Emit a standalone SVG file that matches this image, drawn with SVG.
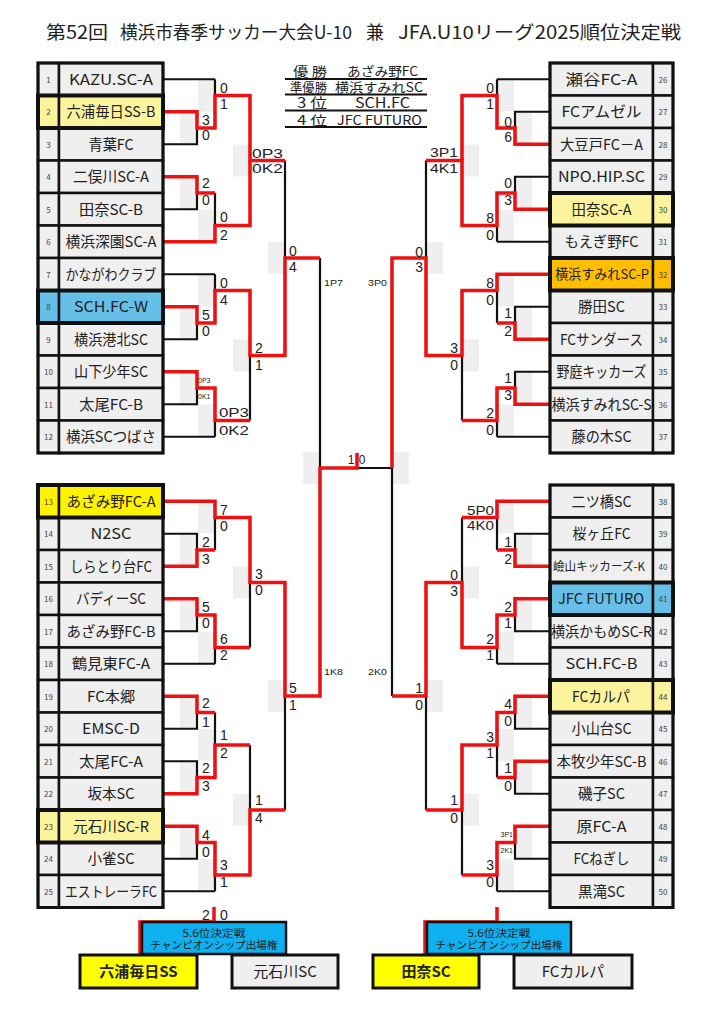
<svg xmlns="http://www.w3.org/2000/svg" width="724" height="1024" viewBox="0 0 724 1024">
<style>
text{font-family:"Noto Sans CJK JP","Noto Sans",sans-serif;fill:#222}
#scores text{font-family:"Liberation Sans","Noto Sans",sans-serif}
.c{fill:#efefef;stroke:#111;stroke-width:2.5}
.hl{fill:none;stroke:#111;stroke-width:4}
.ob{fill:none;stroke:#111;stroke-width:3}
.num{font-size:8px;text-anchor:middle;fill:#444}
.nm{font-size:15px;text-anchor:middle}
.blk{fill:none;stroke:#111;stroke-width:2.2}
.red{fill:none;stroke:#ee1111;stroke-width:3.5;stroke-linejoin:miter}
.s{font-size:14px}
.sl{font-size:14px;text-anchor:end}
.m{font-size:13.5px}
.ml{font-size:13.5px;text-anchor:end}
.t{font-size:7px}
.tl{font-size:7px;text-anchor:end}
.f{font-size:9.5px}
.fl{font-size:9.5px;text-anchor:end}
.sh{fill:#efefef}
.py{fill:#fbf49c}
.by{fill:#fff200}
.bl{fill:#66bfe6}
.or{fill:#ffbe00}
.res{font-size:13px;text-anchor:middle}
</style>

<g id="title">
<text x="46" y="39" textLength="62" lengthAdjust="spacingAndGlyphs" style="font-size:18px">第52回</text>
<text x="120" y="39" textLength="232" lengthAdjust="spacingAndGlyphs" style="font-size:18px">横浜市春季サッカー大会U-10</text>
<text x="366" y="39" textLength="18" lengthAdjust="spacingAndGlyphs" style="font-size:18px">兼</text>
<text x="398" y="39" textLength="283" lengthAdjust="spacingAndGlyphs" style="font-size:18px">JFA.U10リーグ2025順位決定戦</text>
</g>

<g id="results">
<path d="M285,79H427M285,94.5H427M285,110.5H427M285,127H427" stroke="#111" stroke-width="2" fill="none"/>
<text class="res" x="310" y="76" textLength="34" lengthAdjust="spacingAndGlyphs">優 勝</text>
<text class="res" x="382.5" y="76" textLength="71" lengthAdjust="spacingAndGlyphs">あざみ野FC</text>
<text class="res" x="308.5" y="92" textLength="37" lengthAdjust="spacingAndGlyphs">準優勝</text>
<text class="res" x="379" y="92" textLength="88" lengthAdjust="spacingAndGlyphs">横浜すみれSC</text>
<text class="res" x="312" y="108" textLength="30" lengthAdjust="spacingAndGlyphs" style="font-size:14px">3 位</text>
<text class="res" x="382.5" y="108" textLength="55" lengthAdjust="spacingAndGlyphs" style="font-size:14px">SCH.FC</text>
<text class="res" x="312" y="124.5" textLength="30" lengthAdjust="spacingAndGlyphs">4 位</text>
<text class="res" x="379.5" y="124.5" textLength="85" lengthAdjust="spacingAndGlyphs">JFC FUTURO</text>
</g>

<g id="shading">
<rect class="sh" x="180" y="112" width="17" height="32"/><rect class="sh" x="180" y="177" width="17" height="32"/><rect class="sh" x="180" y="307" width="17" height="32"/><rect class="sh" x="180" y="372" width="17" height="32"/><rect class="sh" x="180" y="534" width="17" height="32"/><rect class="sh" x="180" y="599" width="17" height="32"/><rect class="sh" x="180" y="696.5" width="17" height="32"/><rect class="sh" x="180" y="761.5" width="17" height="32"/><rect class="sh" x="180" y="826.5" width="17" height="32"/>
<rect class="sh" x="198" y="79.5" width="17" height="32"/><rect class="sh" x="198" y="209.5" width="17" height="32"/><rect class="sh" x="198" y="274.5" width="17" height="32"/><rect class="sh" x="198" y="404.5" width="17" height="32"/><rect class="sh" x="198" y="501.5" width="17" height="32"/><rect class="sh" x="198" y="631.5" width="17" height="32"/><rect class="sh" x="198" y="729" width="17" height="32"/><rect class="sh" x="198" y="859" width="17" height="32"/>
<rect class="sh" x="233" y="144.5" width="17" height="32"/><rect class="sh" x="233" y="339.5" width="17" height="32"/><rect class="sh" x="233" y="566.5" width="17" height="32"/><rect class="sh" x="233" y="794" width="17" height="32"/>
<rect class="sh" x="268" y="242" width="17" height="32"/><rect class="sh" x="268" y="680" width="17" height="32"/>
<rect class="sh" x="303" y="452" width="17" height="32"/>
<rect class="sh" x="515" y="112" width="17" height="32"/><rect class="sh" x="515" y="177" width="17" height="32"/><rect class="sh" x="515" y="307" width="17" height="32"/><rect class="sh" x="515" y="372" width="17" height="32"/><rect class="sh" x="515" y="534" width="17" height="32"/><rect class="sh" x="515" y="599" width="17" height="32"/><rect class="sh" x="515" y="696.5" width="17" height="32"/><rect class="sh" x="515" y="761.5" width="17" height="32"/><rect class="sh" x="515" y="826.5" width="17" height="32"/>
<rect class="sh" x="497" y="79.5" width="17" height="32"/><rect class="sh" x="497" y="209.5" width="17" height="32"/><rect class="sh" x="497" y="274.5" width="17" height="32"/><rect class="sh" x="497" y="404.5" width="17" height="32"/><rect class="sh" x="497" y="501.5" width="17" height="32"/><rect class="sh" x="497" y="631.5" width="17" height="32"/><rect class="sh" x="497" y="729" width="17" height="32"/><rect class="sh" x="497" y="859" width="17" height="32"/>
<rect class="sh" x="462" y="144.5" width="17" height="32"/><rect class="sh" x="462" y="339.5" width="17" height="32"/><rect class="sh" x="462" y="566.5" width="17" height="32"/><rect class="sh" x="462" y="794" width="17" height="32"/>
<rect class="sh" x="426" y="242" width="17" height="32"/><rect class="sh" x="426" y="680" width="17" height="32"/>
<rect class="sh" x="392" y="452" width="17" height="32"/>
</g>

<g id="connectors">
<path class="blk" d="M163,79.25H215M163,111.75H197V144.25H163M197,128H215M215,79.25V128M215,95.5H250M163,176.75H197V209.25H163M197,193H215M163,241.75H215M215,193V241.75M215,225.5H250M250,95.5V225.5M250,160.5H285M163,274.25H215M163,306.75H197V339.25H163M197,323H215M215,274.25V323M215,290.5H250M163,371.75H197V404.25H163M197,388H215M163,436.75H215M215,388V436.75M215,420.5H250M250,290.5V420.5M250,355.5H285M285,160.5V355.5M285,258H320M320,258V696M320,468H392"/>
<path class="blk" d="M163,501.25H215M163,533.75H197V566.25H163M197,550H215M215,501.25V550M215,517.5H250M163,598.75H197V631.25H163M197,615H215M163,663.75H215M215,615V663.75M215,647.5H250M250,517.5V647.5M250,582.5H285M163,696.25H197V728.75H163M197,712.5H215M163,761.25H197V793.75H163M197,777.5H215M215,712.5V777.5M215,745H250M163,826.25H197V858.75H163M197,842.5H215M163,891.25H215M215,842.5V891.25M215,875H250M250,745V875M250,810H285M285,582.5V810M285,696H320"/>
<path class="blk" d="M550,79.25H497M550,111.75H515V144.25H550M515,128H497M497,79.25V128M497,95.5H462M550,176.75H515V209.25H550M515,193H497M550,241.75H497M497,193V241.75M497,225.5H462M462,95.5V225.5M462,160.5H426M550,274.25H497M550,306.75H515V339.25H550M515,323H497M497,274.25V323M497,290.5H462M550,371.75H515V404.25H550M515,388H497M550,436.75H497M497,388V436.75M497,420.5H462M462,290.5V420.5M462,355.5H426M426,160.5V355.5M426,258H392M392,258V696"/>
<path class="blk" d="M550,501.25H497M550,533.75H515V566.25H550M515,550H497M497,501.25V550M497,517.5H462M550,598.75H515V631.25H550M515,615H497M550,663.75H497M497,615V663.75M497,647.5H462M462,517.5V647.5M462,582.5H426M550,696.25H515V728.75H550M515,712.5H497M550,761.25H515V793.75H550M515,777.5H497M497,712.5V777.5M497,745H462M550,826.25H515V858.75H550M515,842.5H497M550,891.25H497M497,842.5V891.25M497,875H462M462,745V875M462,810H426M426,582.5V810M426,696H392"/>
<path class="red" d="M163,111.75H197V128H215V95.5H250V160.5H285"/>
<path class="red" d="M163,176.75H197V193H215"/>
<path class="red" d="M163,241.75H215V225.5H250V160.5"/>
<path class="red" d="M163,306.75H197V323H215V290.5H250V355.5H285V258H320"/>
<path class="red" d="M163,371.75H197V388H215V420.5H250"/>
<path class="red" d="M163,501.25H215V517.5H250V582.5H285V696H320V468H357V453"/>
<path class="red" d="M163,566.25H197V550H215"/>
<path class="red" d="M163,598.75H197V615H215V647.5H250"/>
<path class="red" d="M163,696.25H197V712.5H215"/>
<path class="red" d="M163,793.75H197V777.5H215V745H250"/>
<path class="red" d="M163,826.25H197V842.5H215V875H250V810H285"/>
<path class="red" d="M550,144.25H515V128H497V95.5H462V160.5"/>
<path class="red" d="M550,209.25H515V193H497V225.5H462V160.5H426"/>
<path class="red" d="M550,274.25H497V290.5H462V355.5H426V258H392V468"/>
<path class="red" d="M550,339.25H515V323H497"/>
<path class="red" d="M550,404.25H515V388H497V420.5H462"/>
<path class="red" d="M550,501.25H497V517.5H462"/>
<path class="red" d="M550,566.25H515V550H497"/>
<path class="red" d="M550,598.75H515V615H497V647.5H462V582.5H426V696H392"/>
<path class="red" d="M550,696.25H515V712.5H497V745H462V810H426"/>
<path class="red" d="M550,761.25H515V777.5H497"/>
<path class="red" d="M550,826.25H515V842.5H497V875H462"/>
<path class="red" d="M214,907V922H140V955"/>
<path class="red" d="M497,907V922H425V955"/>
</g>

<g id="scores">
<text class="s" x="202" y="125">3</text><text class="s" x="202" y="140">0</text>
<text class="s" x="220" y="93">0</text><text class="s" x="220" y="109">1</text>
<text class="m" x="252" y="158" textLength="31" lengthAdjust="spacingAndGlyphs">0P3</text><text class="m" x="252" y="173" textLength="31" lengthAdjust="spacingAndGlyphs">0K2</text>
<text class="s" x="202" y="188">2</text><text class="s" x="202" y="205">0</text>
<text class="s" x="220" y="222">0</text><text class="s" x="220" y="240">2</text>
<text class="s" x="289" y="256">0</text><text class="s" x="289" y="272">4</text>
<text class="s" x="202" y="320">5</text><text class="s" x="202" y="336">0</text>
<text class="s" x="220" y="288">0</text><text class="s" x="220" y="305">4</text>
<text class="s" x="255" y="353">2</text><text class="s" x="255" y="370">1</text>
<text class="t" x="198" y="382.5">0P3</text><text class="t" x="198" y="398.5">0K1</text>
<text class="m" x="219" y="416.5" textLength="30" lengthAdjust="spacingAndGlyphs">0P3</text><text class="m" x="219" y="434.5" textLength="30" lengthAdjust="spacingAndGlyphs">0K2</text>
<text class="f" x="324" y="286" textLength="19" lengthAdjust="spacingAndGlyphs">1P7</text><text class="f" x="324" y="675" textLength="19" lengthAdjust="spacingAndGlyphs">1K8</text>
<text x="351" y="464" style="font-size:12px;text-anchor:middle">1</text><text x="362" y="464" style="font-size:12px;text-anchor:middle">0</text>
<text class="s" x="202" y="547">2</text><text class="s" x="202" y="564">3</text>
<text class="s" x="202" y="612">5</text><text class="s" x="202" y="628">0</text>
<text class="s" x="202" y="708">2</text><text class="s" x="202" y="727">1</text>
<text class="s" x="202" y="773">2</text><text class="s" x="202" y="791">3</text>
<text class="s" x="202" y="840">4</text><text class="s" x="202" y="857">0</text>
<text class="s" x="220" y="515">7</text><text class="s" x="220" y="531">0</text>
<text class="s" x="220" y="644">6</text><text class="s" x="220" y="660">2</text>
<text class="s" x="220" y="740">1</text><text class="s" x="220" y="758">2</text>
<text class="s" x="220" y="870">3</text><text class="s" x="220" y="887">1</text>
<text class="s" x="255" y="579">3</text><text class="s" x="255" y="595">0</text>
<text class="s" x="255" y="805">1</text><text class="s" x="255" y="823">4</text>
<text class="s" x="289" y="693">5</text><text class="s" x="289" y="710">1</text>
<text x="206" y="920" style="font-size:14px;text-anchor:middle">2</text><text x="224" y="920" style="font-size:14px;text-anchor:middle">0</text>
<text class="sl" x="512" y="127">0</text><text class="sl" x="512" y="142">6</text>
<text class="sl" x="512" y="188">0</text><text class="sl" x="512" y="205">3</text>
<text class="sl" x="512" y="318">1</text><text class="sl" x="512" y="336">2</text>
<text class="sl" x="512" y="383">1</text><text class="sl" x="512" y="400">3</text>
<text class="sl" x="494" y="93">0</text><text class="sl" x="494" y="109">1</text>
<text class="sl" x="494" y="223">8</text><text class="sl" x="494" y="240">0</text>
<text class="sl" x="494" y="288">8</text><text class="sl" x="494" y="305">0</text>
<text class="sl" x="494" y="418">2</text><text class="sl" x="494" y="435">0</text>
<text class="ml" x="458" y="156.5" textLength="28" lengthAdjust="spacingAndGlyphs">3P1</text><text class="ml" x="458" y="172.5" textLength="28" lengthAdjust="spacingAndGlyphs">4K1</text>
<text class="sl" x="458" y="353">3</text><text class="sl" x="458" y="370">0</text>
<text class="sl" x="423" y="257">0</text><text class="sl" x="423" y="272">3</text>
<text class="fl" x="387" y="286" textLength="19" lengthAdjust="spacingAndGlyphs">3P0</text><text class="fl" x="387" y="675" textLength="19" lengthAdjust="spacingAndGlyphs">2K0</text>
<text class="ml" x="494" y="515" textLength="27" lengthAdjust="spacingAndGlyphs">5P0</text><text class="ml" x="494" y="530" textLength="27" lengthAdjust="spacingAndGlyphs">4K0</text>
<text class="sl" x="494" y="644">2</text><text class="sl" x="494" y="660">1</text>
<text class="sl" x="494" y="742">3</text><text class="sl" x="494" y="758">1</text>
<text class="sl" x="494" y="870">3</text><text class="sl" x="494" y="887">0</text>
<text class="sl" x="512" y="547">1</text><text class="sl" x="512" y="564">2</text>
<text class="sl" x="512" y="612">2</text><text class="sl" x="512" y="628">1</text>
<text class="sl" x="512" y="709">4</text><text class="sl" x="512" y="726">0</text>
<text class="sl" x="512" y="773">1</text><text class="sl" x="512" y="791">0</text>
<text class="tl" x="513" y="836.5">3P1</text><text class="tl" x="513" y="852.5">2K1</text>
<text class="sl" x="458" y="580">0</text><text class="sl" x="458" y="596">3</text>
<text class="sl" x="458" y="805">1</text><text class="sl" x="458" y="823">0</text>
<text class="sl" x="423" y="693">1</text><text class="sl" x="423" y="710">0</text>
</g>

<g id="t1"><rect class="c" x="38" y="63" width="21" height="32.5"/><rect class="c" x="59" y="63" width="104" height="32.5"/><text class="num" x="48.5" y="82.5">1</text><text class="nm" x="111" y="84.75" textLength="84" lengthAdjust="spacingAndGlyphs">KAZU.SC-A</text></g>
<g id="t3"><rect class="c" x="38" y="128" width="21" height="32.5"/><rect class="c" x="59" y="128" width="104" height="32.5"/><text class="num" x="48.5" y="147.5">3</text><text class="nm" x="111" y="149.75" textLength="45" lengthAdjust="spacingAndGlyphs">青葉FC</text></g>
<g id="t4"><rect class="c" x="38" y="160.5" width="21" height="32.5"/><rect class="c" x="59" y="160.5" width="104" height="32.5"/><text class="num" x="48.5" y="180">4</text><text class="nm" x="111" y="182.25" textLength="76" lengthAdjust="spacingAndGlyphs">二俣川SC-A</text></g>
<g id="t5"><rect class="c" x="38" y="193" width="21" height="32.5"/><rect class="c" x="59" y="193" width="104" height="32.5"/><text class="num" x="48.5" y="212.5">5</text><text class="nm" x="111" y="214.75" textLength="64" lengthAdjust="spacingAndGlyphs">田奈SC-B</text></g>
<g id="t6"><rect class="c" x="38" y="225.5" width="21" height="32.5"/><rect class="c" x="59" y="225.5" width="104" height="32.5"/><text class="num" x="48.5" y="245">6</text><text class="nm" x="111" y="247.25" textLength="91" lengthAdjust="spacingAndGlyphs">横浜深園SC-A</text></g>
<g id="t7"><rect class="c" x="38" y="258" width="21" height="32.5"/><rect class="c" x="59" y="258" width="104" height="32.5"/><text class="num" x="48.5" y="277.5">7</text><text class="nm" x="111" y="279.75" textLength="91" lengthAdjust="spacingAndGlyphs">かながわクラブ</text></g>
<g id="t9"><rect class="c" x="38" y="323" width="21" height="32.5"/><rect class="c" x="59" y="323" width="104" height="32.5"/><text class="num" x="48.5" y="342.5">9</text><text class="nm" x="111" y="344.75" textLength="74" lengthAdjust="spacingAndGlyphs">横浜港北SC</text></g>
<g id="t10"><rect class="c" x="38" y="355.5" width="21" height="32.5"/><rect class="c" x="59" y="355.5" width="104" height="32.5"/><text class="num" x="48.5" y="375">10</text><text class="nm" x="111" y="377.25" textLength="74" lengthAdjust="spacingAndGlyphs">山下少年SC</text></g>
<g id="t11"><rect class="c" x="38" y="388" width="21" height="32.5"/><rect class="c" x="59" y="388" width="104" height="32.5"/><text class="num" x="48.5" y="407.5">11</text><text class="nm" x="111" y="409.75" textLength="64" lengthAdjust="spacingAndGlyphs">太尾FC-B</text></g>
<g id="t12"><rect class="c" x="38" y="420.5" width="21" height="32.5"/><rect class="c" x="59" y="420.5" width="104" height="32.5"/><text class="num" x="48.5" y="440">12</text><text class="nm" x="111" y="442.25" textLength="90" lengthAdjust="spacingAndGlyphs">横浜SCつばさ</text></g>
<g id="t14"><rect class="c" x="38" y="517.5" width="21" height="32.5"/><rect class="c" x="59" y="517.5" width="104" height="32.5"/><text class="num" x="48.5" y="537">14</text><text class="nm" x="111" y="539.25" textLength="41" lengthAdjust="spacingAndGlyphs">N2SC</text></g>
<g id="t15"><rect class="c" x="38" y="550" width="21" height="32.5"/><rect class="c" x="59" y="550" width="104" height="32.5"/><text class="num" x="48.5" y="569.5">15</text><text class="nm" x="111" y="571.75" textLength="82" lengthAdjust="spacingAndGlyphs">しらとり台FC</text></g>
<g id="t16"><rect class="c" x="38" y="582.5" width="21" height="32.5"/><rect class="c" x="59" y="582.5" width="104" height="32.5"/><text class="num" x="48.5" y="602">16</text><text class="nm" x="111" y="604.25" textLength="70" lengthAdjust="spacingAndGlyphs">バディーSC</text></g>
<g id="t17"><rect class="c" x="38" y="615" width="21" height="32.5"/><rect class="c" x="59" y="615" width="104" height="32.5"/><text class="num" x="48.5" y="634.5">17</text><text class="nm" x="111" y="636.75" textLength="89" lengthAdjust="spacingAndGlyphs">あざみ野FC-B</text></g>
<g id="t18"><rect class="c" x="38" y="647.5" width="21" height="32.5"/><rect class="c" x="59" y="647.5" width="104" height="32.5"/><text class="num" x="48.5" y="667">18</text><text class="nm" x="111" y="669.25" textLength="78" lengthAdjust="spacingAndGlyphs">鶴見東FC-A</text></g>
<g id="t19"><rect class="c" x="38" y="680" width="21" height="32.5"/><rect class="c" x="59" y="680" width="104" height="32.5"/><text class="num" x="48.5" y="699.5">19</text><text class="nm" x="111" y="701.75" textLength="48" lengthAdjust="spacingAndGlyphs">FC本郷</text></g>
<g id="t20"><rect class="c" x="38" y="712.5" width="21" height="32.5"/><rect class="c" x="59" y="712.5" width="104" height="32.5"/><text class="num" x="48.5" y="732">20</text><text class="nm" x="111" y="734.25" textLength="58" lengthAdjust="spacingAndGlyphs">EMSC-D</text></g>
<g id="t21"><rect class="c" x="38" y="745" width="21" height="32.5"/><rect class="c" x="59" y="745" width="104" height="32.5"/><text class="num" x="48.5" y="764.5">21</text><text class="nm" x="111" y="766.75" textLength="64" lengthAdjust="spacingAndGlyphs">太尾FC-A</text></g>
<g id="t22"><rect class="c" x="38" y="777.5" width="21" height="32.5"/><rect class="c" x="59" y="777.5" width="104" height="32.5"/><text class="num" x="48.5" y="797">22</text><text class="nm" x="111" y="799.25" textLength="47" lengthAdjust="spacingAndGlyphs">坂本SC</text></g>
<g id="t24"><rect class="c" x="38" y="842.5" width="21" height="32.5"/><rect class="c" x="59" y="842.5" width="104" height="32.5"/><text class="num" x="48.5" y="862">24</text><text class="nm" x="111" y="864.25" textLength="47" lengthAdjust="spacingAndGlyphs">小雀SC</text></g>
<g id="t25"><rect class="c" x="38" y="875" width="21" height="32.5"/><rect class="c" x="59" y="875" width="104" height="32.5"/><text class="num" x="48.5" y="894.5">25</text><text class="nm" x="111" y="896.75" textLength="92" lengthAdjust="spacingAndGlyphs">エストレーラFC</text></g>

<g id="t26"><rect class="c" x="550" y="63" width="103" height="32.5"/><rect class="c" x="653" y="63" width="20" height="32.5"/><text class="num" x="663" y="82.5">26</text><text class="nm" x="601.5" y="84.75" textLength="72" lengthAdjust="spacingAndGlyphs">瀬谷FC-A</text></g>
<g id="t27"><rect class="c" x="550" y="95.5" width="103" height="32.5"/><rect class="c" x="653" y="95.5" width="20" height="32.5"/><text class="num" x="663" y="115">27</text><text class="nm" x="601.5" y="117.25" textLength="80" lengthAdjust="spacingAndGlyphs">FCアムゼル</text></g>
<g id="t28"><rect class="c" x="550" y="128" width="103" height="32.5"/><rect class="c" x="653" y="128" width="20" height="32.5"/><text class="num" x="663" y="147.5">28</text><text class="nm" x="601.5" y="149.75" textLength="83" lengthAdjust="spacingAndGlyphs">大豆戸FC－A</text></g>
<g id="t29"><rect class="c" x="550" y="160.5" width="103" height="32.5"/><rect class="c" x="653" y="160.5" width="20" height="32.5"/><text class="num" x="663" y="180">29</text><text class="nm" x="601.5" y="182.25" textLength="87" lengthAdjust="spacingAndGlyphs">NPO.HIP.SC</text></g>
<g id="t31"><rect class="c" x="550" y="225.5" width="103" height="32.5"/><rect class="c" x="653" y="225.5" width="20" height="32.5"/><text class="num" x="663" y="245">31</text><text class="nm" x="601.5" y="247.25" textLength="74" lengthAdjust="spacingAndGlyphs">もえぎ野FC</text></g>
<g id="t33"><rect class="c" x="550" y="290.5" width="103" height="32.5"/><rect class="c" x="653" y="290.5" width="20" height="32.5"/><text class="num" x="663" y="310">33</text><text class="nm" x="601.5" y="312.25" textLength="47" lengthAdjust="spacingAndGlyphs">勝田SC</text></g>
<g id="t34"><rect class="c" x="550" y="323" width="103" height="32.5"/><rect class="c" x="653" y="323" width="20" height="32.5"/><text class="num" x="663" y="342.5">34</text><text class="nm" x="601.5" y="344.75" textLength="83" lengthAdjust="spacingAndGlyphs">FCサンダース</text></g>
<g id="t35"><rect class="c" x="550" y="355.5" width="103" height="32.5"/><rect class="c" x="653" y="355.5" width="20" height="32.5"/><text class="num" x="663" y="375">35</text><text class="nm" x="601.5" y="377.25" textLength="90" lengthAdjust="spacingAndGlyphs">野庭キッカーズ</text></g>
<g id="t36"><rect class="c" x="550" y="388" width="103" height="32.5"/><rect class="c" x="653" y="388" width="20" height="32.5"/><text class="num" x="663" y="407.5">36</text><text class="nm" x="601.5" y="409.75" textLength="100" lengthAdjust="spacingAndGlyphs">横浜すみれSC-S</text></g>
<g id="t37"><rect class="c" x="550" y="420.5" width="103" height="32.5"/><rect class="c" x="653" y="420.5" width="20" height="32.5"/><text class="num" x="663" y="440">37</text><text class="nm" x="601.5" y="442.25" textLength="60" lengthAdjust="spacingAndGlyphs">藤の木SC</text></g>
<g id="t38"><rect class="c" x="550" y="485" width="103" height="32.5"/><rect class="c" x="653" y="485" width="20" height="32.5"/><text class="num" x="663" y="504.5">38</text><text class="nm" x="601.5" y="506.75" textLength="60" lengthAdjust="spacingAndGlyphs">二ツ橋SC</text></g>
<g id="t39"><rect class="c" x="550" y="517.5" width="103" height="32.5"/><rect class="c" x="653" y="517.5" width="20" height="32.5"/><text class="num" x="663" y="537">39</text><text class="nm" x="601.5" y="539.25" textLength="58" lengthAdjust="spacingAndGlyphs">桜ヶ丘FC</text></g>
<g id="t40"><rect class="c" x="550" y="550" width="103" height="32.5"/><rect class="c" x="653" y="550" width="20" height="32.5"/><text class="num" x="663" y="569.5">40</text><text class="nm" x="599" y="570.75" textLength="92" lengthAdjust="spacingAndGlyphs" style="font-size:12px">嶮山キッカーズ-K</text></g>
<g id="t42"><rect class="c" x="550" y="615" width="103" height="32.5"/><rect class="c" x="653" y="615" width="20" height="32.5"/><text class="num" x="663" y="634.5">42</text><text class="nm" x="601.5" y="636.75" textLength="101" lengthAdjust="spacingAndGlyphs">横浜かもめSC-R</text></g>
<g id="t43"><rect class="c" x="550" y="647.5" width="103" height="32.5"/><rect class="c" x="653" y="647.5" width="20" height="32.5"/><text class="num" x="663" y="667">43</text><text class="nm" x="601.5" y="669.25" textLength="72" lengthAdjust="spacingAndGlyphs">SCH.FC-B</text></g>
<g id="t45"><rect class="c" x="550" y="712.5" width="103" height="32.5"/><rect class="c" x="653" y="712.5" width="20" height="32.5"/><text class="num" x="663" y="732">45</text><text class="nm" x="601.5" y="734.25" textLength="60" lengthAdjust="spacingAndGlyphs">小山台SC</text></g>
<g id="t46"><rect class="c" x="550" y="745" width="103" height="32.5"/><rect class="c" x="653" y="745" width="20" height="32.5"/><text class="num" x="663" y="764.5">46</text><text class="nm" x="601.5" y="766.75" textLength="90" lengthAdjust="spacingAndGlyphs">本牧少年SC-B</text></g>
<g id="t47"><rect class="c" x="550" y="777.5" width="103" height="32.5"/><rect class="c" x="653" y="777.5" width="20" height="32.5"/><text class="num" x="663" y="797">47</text><text class="nm" x="601.5" y="799.25" textLength="47" lengthAdjust="spacingAndGlyphs">磯子SC</text></g>
<g id="t48"><rect class="c" x="550" y="810" width="103" height="32.5"/><rect class="c" x="653" y="810" width="20" height="32.5"/><text class="num" x="663" y="829.5">48</text><text class="nm" x="601.5" y="831.75" textLength="50" lengthAdjust="spacingAndGlyphs">原FC-A</text></g>
<g id="t49"><rect class="c" x="550" y="842.5" width="103" height="32.5"/><rect class="c" x="653" y="842.5" width="20" height="32.5"/><text class="num" x="663" y="862">49</text><text class="nm" x="601.5" y="864.25" textLength="56" lengthAdjust="spacingAndGlyphs">FCねぎし</text></g>
<g id="t50"><rect class="c" x="550" y="875" width="103" height="32.5"/><rect class="c" x="653" y="875" width="20" height="32.5"/><text class="num" x="663" y="894.5">50</text><text class="nm" x="601.5" y="896.75" textLength="47" lengthAdjust="spacingAndGlyphs">黒滝SC</text></g>

<g id="tables">
<rect class="ob" x="38" y="63" width="125" height="390"/>
<rect class="ob" x="38" y="485" width="125" height="422.5"/>
<rect class="ob" x="550" y="63" width="123" height="390"/>
<rect class="ob" x="550" y="485" width="123" height="422.5"/>
</g>

<g id="t2"><rect class="c py" x="38" y="95.5" width="21" height="32.5"/><rect class="c py" x="59" y="95.5" width="104" height="32.5"/><rect class="hl" x="38" y="95.5" width="125" height="32.5"/><text class="num" x="48.5" y="115">2</text><text class="nm" x="111" y="117.25" textLength="89" lengthAdjust="spacingAndGlyphs">六浦毎日SS-B</text></g>
<g id="t8"><rect class="c bl" x="38" y="290.5" width="21" height="32.5"/><rect class="c bl" x="59" y="290.5" width="104" height="32.5"/><rect class="hl" x="38" y="290.5" width="125" height="32.5"/><text class="num" x="48.5" y="310">8</text><text class="nm" x="111" y="312.25" textLength="74" lengthAdjust="spacingAndGlyphs">SCH.FC-W</text></g>
<g id="t13"><rect class="c by" x="38" y="485" width="21" height="32.5"/><rect class="c by" x="59" y="485" width="104" height="32.5"/><rect class="hl" x="38" y="485" width="125" height="32.5"/><text class="num" x="48.5" y="504.5">13</text><text class="nm" x="111" y="506.75" textLength="89" lengthAdjust="spacingAndGlyphs">あざみ野FC-A</text></g>
<g id="t23"><rect class="c py" x="38" y="810" width="21" height="32.5"/><rect class="c py" x="59" y="810" width="104" height="32.5"/><rect class="hl" x="38" y="810" width="125" height="32.5"/><text class="num" x="48.5" y="829.5">23</text><text class="nm" x="111" y="831.75" textLength="76" lengthAdjust="spacingAndGlyphs">元石川SC-R</text></g>
<g id="t30"><rect class="c py" x="550" y="193" width="103" height="32.5"/><rect class="c py" x="653" y="193" width="20" height="32.5"/><rect class="hl" x="550" y="193" width="123" height="32.5"/><text class="num" x="663" y="212.5">30</text><text class="nm" x="601.5" y="214.75" textLength="60" lengthAdjust="spacingAndGlyphs">田奈SC-A</text></g>
<g id="t32"><rect class="c or" x="550" y="258" width="103" height="32.5"/><rect class="c or" x="653" y="258" width="20" height="32.5"/><rect class="hl" x="550" y="258" width="123" height="32.5"/><text class="num" x="663" y="277.5">32</text><text class="nm" x="602" y="279" textLength="94" lengthAdjust="spacingAndGlyphs" style="font-size:13.5px">横浜すみれSC-P</text></g>
<g id="t41"><rect class="c bl" x="550" y="582.5" width="103" height="32.5"/><rect class="c bl" x="653" y="582.5" width="20" height="32.5"/><rect class="hl" x="550" y="582.5" width="123" height="32.5"/><text class="num" x="663" y="602">41</text><text class="nm" x="601" y="604.25" textLength="86" lengthAdjust="spacingAndGlyphs">JFC FUTURO</text></g>
<g id="t44"><rect class="c py" x="550" y="680" width="103" height="32.5"/><rect class="c py" x="653" y="680" width="20" height="32.5"/><rect class="hl" x="550" y="680" width="123" height="32.5"/><text class="num" x="663" y="699.5">44</text><text class="nm" x="601" y="701.75" textLength="58" lengthAdjust="spacingAndGlyphs">FCカルパ</text></g>

<g id="playoff-left">
<rect x="142" y="922" width="144" height="32" fill="#0fb0ef" stroke="#111" stroke-width="2.5"/>
<text x="214" y="937" style="font-size:10.5px;text-anchor:middle" textLength="63" lengthAdjust="spacingAndGlyphs">5.6位決定戦</text>
<text x="214" y="949" style="font-size:10.5px;text-anchor:middle" textLength="127" lengthAdjust="spacingAndGlyphs">チャンピオンシップ出場権</text>
</g>
<g id="playoff-right">
<rect x="427" y="922" width="144" height="32" fill="#0fb0ef" stroke="#111" stroke-width="2.5"/>
<text x="499" y="937" style="font-size:10.5px;text-anchor:middle" textLength="63" lengthAdjust="spacingAndGlyphs">5.6位決定戦</text>
<text x="499" y="949" style="font-size:10.5px;text-anchor:middle" textLength="127" lengthAdjust="spacingAndGlyphs">チャンピオンシップ出場権</text>
</g>
<g id="p-mutsuura"><rect x="80" y="955" width="117" height="33" fill="#ffff00" stroke="#111" stroke-width="3"/><text x="138.5" y="977" style="font-size:15px;font-weight:bold;text-anchor:middle">六浦毎日SS</text></g>
<g id="p-motoishikawa"><rect x="232" y="955" width="106" height="33" fill="#efefef" stroke="#111" stroke-width="3"/><text x="285" y="977" style="font-size:15px;text-anchor:middle">元石川SC</text></g>
<g id="p-tana"><rect x="373" y="955" width="106" height="33" fill="#ffff00" stroke="#111" stroke-width="3"/><text x="426" y="977" style="font-size:15px;font-weight:bold;text-anchor:middle">田奈SC</text></g>
<g id="p-karpa"><rect x="514" y="955" width="118" height="33" fill="#efefef" stroke="#111" stroke-width="3"/><text x="573" y="977" style="font-size:15px;text-anchor:middle">FCカルパ</text></g>
</svg>
